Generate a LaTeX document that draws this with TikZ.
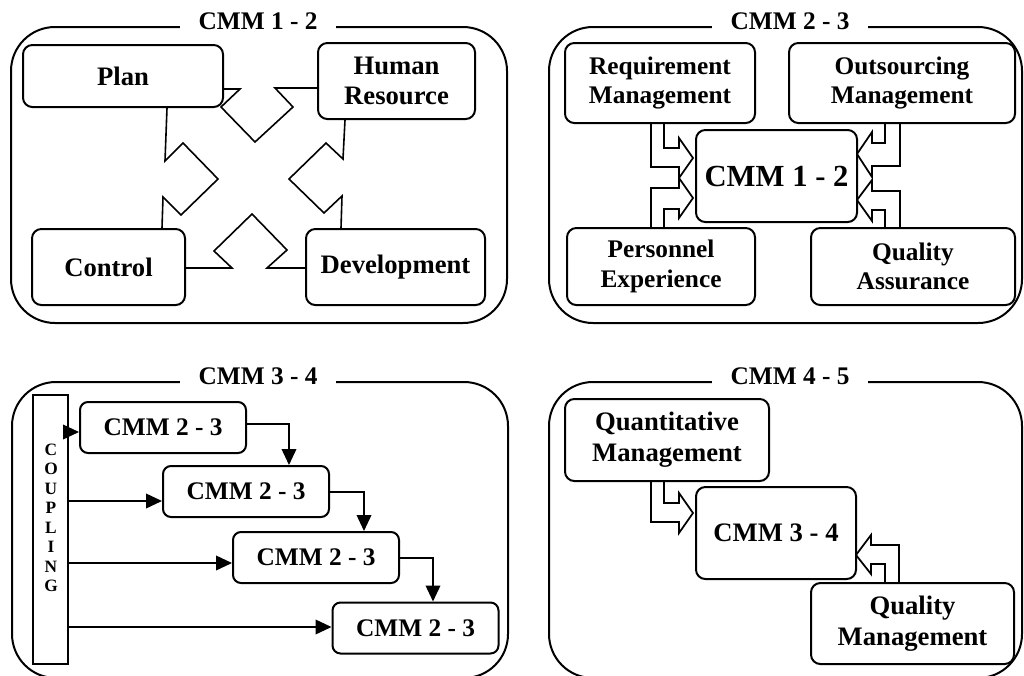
\documentclass[tikz,border=0pt]{standalone}
\usepackage{fontspec}
\setmainfont{Liberation Serif}
\usetikzlibrary{arrows.meta}
\begin{document}
\begin{tikzpicture}[x=0.75pt,y=-0.75pt,
  panel/.style={draw, line width=1.5pt, rounded corners=33pt},
  title/.style={fill=white, inner xsep=14pt, inner ysep=2pt, anchor=base,
    font=\bfseries\fontsize{19}{22}\selectfont},
  box/.style={draw, line width=1.5pt, rounded corners=7pt, fill=white,
    align=center, inner sep=0pt, font=\bfseries\fontsize{20}{23}\selectfont},
  smallbox/.style={box, font=\bfseries\fontsize{19}{22}\selectfont},
  stagebox/.style={box, rounded corners=6pt, minimum width=124.5pt, minimum height=38.25pt,
    font=\bfseries\fontsize{19}{22}\selectfont},
  link/.style={line width=1.2pt, line join=miter},
  blockarrow/.style={line width=1.3pt, line join=miter},
  flow/.style={line width=1.2pt, -{Triangle[length=12pt,width=11pt]}},
]
\useasboundingbox (0,0) rectangle (1024,675);
\fill[white] (0,0) rectangle (1024,675);

% ---------------- CMM 1 - 2 ----------------
\draw[panel] (11,27) rectangle (507,323);
\node[title] (t12) at (258,29) {CMM 1 - 2};

\node[box, minimum width=150pt, minimum height=46.5pt] (plan) at (123,76) {Plan};
\node[box, minimum width=117.75pt, minimum height=57pt] (hr) at (396.5,81) {Human\\Resource};
\node[box, minimum width=114.75pt, minimum height=57pt] (ctrl) at (108.5,267) {Control};
\node[box, minimum width=134.25pt, minimum height=57pt] (dev) at (395.5,267) {Development};

\draw[link] (plan.east |- 0,89) -- (240,89) -- (221,107) -- (255,142) -- (293,107)
  -- (275,88) -- (hr.west |- 0,88);
\draw[link] (plan.south -| 167,0) -- (165,161) -- (183,143) -- (218,179) -- (181,215)
  -- (163,197) -- (ctrl.north -| 162,0);
\draw[link] (hr.south -| 345,0) -- (343,159) -- (326,143) -- (289,179) -- (324,213)
  -- (342,196) -- (dev.north -| 341,0);
\draw[link] (ctrl.east |- 0,268) -- (232,268) -- (214,251) -- (252,214) -- (287,250)
  -- (267,268) -- (dev.west |- 0,268);

% ---------------- CMM 2 - 3 ----------------
\draw[panel] (549,27) rectangle (1022,323);
\node[title] (t23) at (790,29) {CMM 2 - 3};

\node[smallbox, minimum width=142.5pt, minimum height=60pt] (req) at (660,83) {Requirement\\Management};
\node[smallbox, minimum width=169.5pt, minimum height=60pt] (out) at (902,83) {Outsourcing\\Management};
\node[smallbox, minimum width=141pt, minimum height=57.75pt] (pers) at (661,266.5) {Personnel\\Experience};
\node[smallbox, minimum width=153pt, minimum height=57.75pt] (qa) at (913,266.5) {Quality\\Assurance};
\node[box, minimum width=120.75pt, minimum height=69pt, font=\bfseries\fontsize{23}{26}\selectfont]
  (core) at (776.5,176) {CMM 1 - 2};

\draw[blockarrow] (req.south -| 651,0) -- (651,167) -- (679,167) -- (679,178) -- (693,158)
  -- (679,138) -- (679,148) -- (664,148) -- (req.south -| 664,0);
\draw[blockarrow] (pers.north -| 651,0) -- (651,188) -- (679,188) -- (679,178) -- (693,198)
  -- (679,218) -- (679,209) -- (664,209) -- (pers.north -| 664,0);
\draw[blockarrow] (out.south -| 900,0) -- (900,166) -- (872,166) -- (872,177) -- (857,154)
  -- (872,132) -- (872,143) -- (885,143) -- (out.south -| 885,0);
\draw[blockarrow] (qa.north -| 900,0) -- (900,191) -- (872,191) -- (872,180) -- (857,200)
  -- (872,221) -- (872,210) -- (885,210) -- (qa.north -| 885,0);

% ---------------- CMM 3 - 4 ----------------
\draw[panel] (12,382) rectangle (508,678);
\node[title] (t34) at (258,384) {CMM 3 - 4};

\node[draw, line width=1.5pt, minimum width=26.25pt, minimum height=201.75pt, inner sep=0pt]
  (coupling) at (50.5,529.5) {};
\node[align=center, inner sep=0pt, font=\bfseries\fontsize{13}{14.6}\selectfont]
  (couptext) at (51,518) {C\\O\\U\\P\\L\\I\\N\\G};

\node[stagebox] (b1) at (163,427.5) {CMM 2 - 3};
\node[stagebox] (b2) at (246,491.5) {CMM 2 - 3};
\node[stagebox] (b3) at (316,557.5) {CMM 2 - 3};
\node[stagebox] (b4) at (415.5,628) {CMM 2 - 3};

\draw[flow] (coupling.east |- 0,432) -- (b1.west |- 0,432);
\draw[flow] (coupling.east |- 0,501) -- (b2.west |- 0,501);
\draw[flow] (coupling.east |- 0,563) -- (b3.west |- 0,563);
\draw[flow] (coupling.east |- 0,627) -- (b4.west |- 0,627);

\draw[flow] (b1.east |- 0,424) -- (289,424) -- (b2.north -| 289,0);
\draw[flow] (b2.east |- 0,492) -- (364,492) -- (b3.north -| 364,0);
\draw[flow] (b3.east |- 0,558) -- (433,558) -- (b4.north -| 433,0);

% ---------------- CMM 4 - 5 ----------------
\draw[panel] (549,382) rectangle (1022,678);
\node[title] (t45) at (790,384) {CMM 4 - 5};

\node[box, minimum width=153pt, minimum height=61.5pt] (quant) at (667,440) {Quantitative\\Management};
\node[box, minimum width=120pt, minimum height=69pt] (core2) at (776,533) {CMM 3 - 4};
\node[box, minimum width=152.25pt, minimum height=60.75pt] (qm) at (912.5,623.5) {Quality\\Management};

\draw[blockarrow] (quant.south -| 651,0) -- (651,522) -- (679,522) -- (679,533) -- (693,513)
  -- (679,493) -- (679,503) -- (664,503) -- (quant.south -| 664,0);
\draw[blockarrow] (qm.north -| 899,0) -- (899,545) -- (871,545) -- (871,535) -- (856,555)
  -- (871,574) -- (871,564) -- (885,564) -- (qm.north -| 885,0);
\end{tikzpicture}
\end{document}
